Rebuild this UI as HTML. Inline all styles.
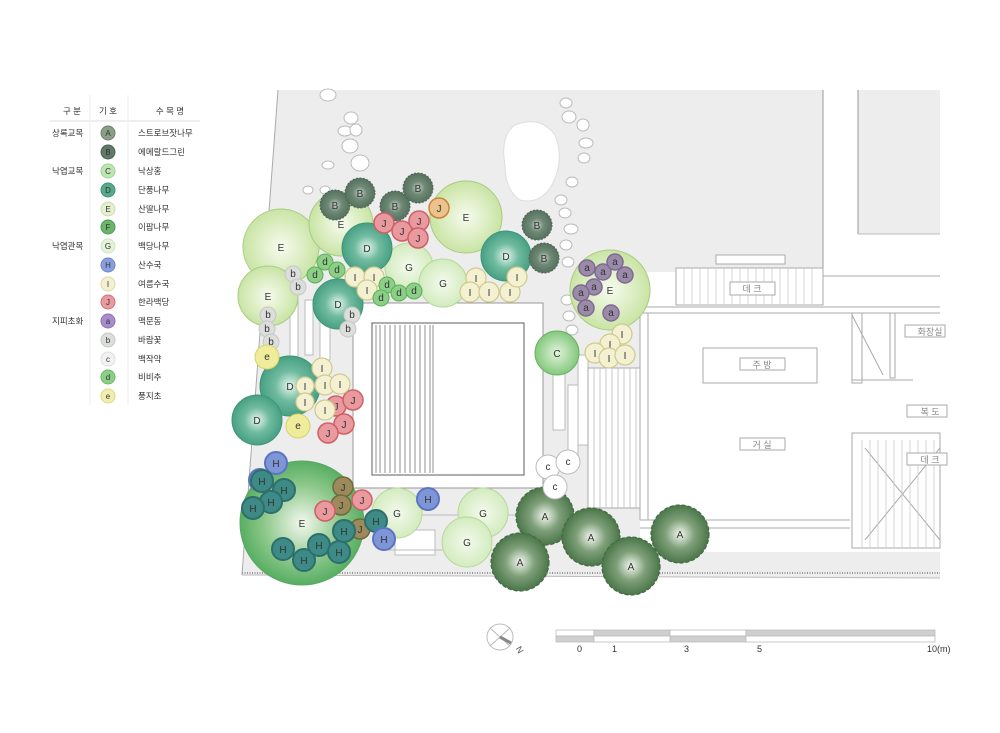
<!DOCTYPE html>
<html><head><meta charset="utf-8"><style>
html,body{margin:0;padding:0;background:#fff}
svg{display:block}
text{font-family:"Liberation Sans","Noto Sans CJK KR",sans-serif}
.t text{font-size:10px;text-anchor:middle;fill:#333}
.lg{font-size:8.5px;fill:#333;font-family:"Liberation Sans","Noto Sans CJK KR",sans-serif}
.rk{fill:#fff;stroke:#bbb;stroke-width:1}
.A circle{fill:url(#gA);stroke:#456b45;stroke-width:1.2;stroke-dasharray:4 2}
.B circle{fill:url(#gB);stroke:#4f6657;stroke-width:1;stroke-dasharray:2 1.5}
.C circle{fill:url(#gC);stroke:#6bb064}
.D circle{fill:url(#gD);stroke:#3f9478}
.E circle{fill:url(#gE);stroke:#a8cc80;stroke-width:1}
.G circle{fill:url(#gG);stroke:#b5d89a}
.H circle{fill:#3d8a86;stroke:#2e6e6b;stroke-width:2}
.Hb circle{fill:#7e95d8;stroke:#5a74c2;stroke-width:2}
.I circle{fill:#f4f1d2;stroke:#cfc98b;stroke-width:1.2}
.J circle{fill:#e89a9e;stroke:#cf5f67;stroke-width:1.5}
.Jo circle{fill:#ecc28f;stroke:#c98534;stroke-width:1.5}
.Jg circle{fill:#9c8a5c;stroke:#6f6a3b;stroke-width:1.5}
.a circle{fill:#9b8ba8;stroke:#7d6a94;stroke-width:1.5}
.b circle{fill:#dcdedc;stroke:#c5c8c5}
.c circle{fill:#fff;stroke:#bbb}
.d circle{fill:#8ccf86;stroke:#5fae5a}
.e circle{fill:#efec9b;stroke:#d6d26a}
.t .in{fill:#fff;stroke:none}
</style></head><body>
<svg width="1000" height="733" viewBox="0 0 1000 733" xmlns="http://www.w3.org/2000/svg">
<defs>
<radialGradient id="gA"><stop offset="0" stop-color="#f4f8f1"/><stop offset=".5" stop-color="#7fa07a"/><stop offset="1" stop-color="#4b7649"/></radialGradient>
<radialGradient id="gB"><stop offset="0" stop-color="#c9d3cb"/><stop offset=".45" stop-color="#6f8a76"/><stop offset="1" stop-color="#55705d"/></radialGradient>
<radialGradient id="gC"><stop offset="0" stop-color="#e0f3dc"/><stop offset="1" stop-color="#84c87c"/></radialGradient>
<radialGradient id="gD"><stop offset="0" stop-color="#e8f6f0"/><stop offset=".5" stop-color="#70bba0"/><stop offset="1" stop-color="#47a083"/></radialGradient>
<radialGradient id="gE"><stop offset="0" stop-color="#f7fbef"/><stop offset="1" stop-color="#c9e4a4"/></radialGradient>
<radialGradient id="gE2"><stop offset="0" stop-color="#f3f8ef"/><stop offset=".6" stop-color="#8fc98c"/><stop offset="1" stop-color="#58ae63"/></radialGradient>
<radialGradient id="gG"><stop offset="0" stop-color="#f4faee"/><stop offset="1" stop-color="#d3ebbe"/></radialGradient>
</defs>

<!-- ground -->
<polygon points="278,90 823,90 823,272 640,272 640,552 940,552 940,578 242,575" fill="#ededed"/>
<line x1="278" y1="90" x2="242" y2="575" stroke="#aaa" stroke-width="1"/>
<line x1="823" y1="90" x2="823" y2="272" stroke="#999"/>
<rect x="858" y="90" width="82" height="144" fill="#ededed"/>
<line x1="858" y1="90" x2="858" y2="234" stroke="#999"/>
<line x1="858" y1="234" x2="940" y2="234" stroke="#bbb"/>
<line x1="242" y1="575" x2="940" y2="578" stroke="#bbb"/>
<line x1="242" y1="573" x2="940" y2="573" stroke="#999" stroke-width="2" stroke-dasharray="1 1.5"/>

<!-- stepping stones / pond -->
<path d="M515 125 Q540 115 555 135 Q565 160 552 185 Q540 205 520 200 Q505 190 505 165 Q500 135 515 125Z" fill="#fff" stroke="#ddd"/>
<ellipse class="rk" cx="328" cy="95" rx="8" ry="6"/><ellipse class="rk" cx="351" cy="118" rx="7" ry="6"/><ellipse class="rk" cx="345" cy="131" rx="7" ry="5"/><ellipse class="rk" cx="356" cy="130" rx="6" ry="6"/><ellipse class="rk" cx="350" cy="146" rx="8" ry="7"/><ellipse class="rk" cx="360" cy="163" rx="9" ry="8"/><ellipse class="rk" cx="328" cy="165" rx="6" ry="4"/><ellipse class="rk" cx="325" cy="190" rx="5" ry="4"/><ellipse class="rk" cx="308" cy="190" rx="5" ry="4"/><ellipse class="rk" cx="566" cy="103" rx="6" ry="5"/><ellipse class="rk" cx="569" cy="117" rx="7" ry="6"/><ellipse class="rk" cx="583" cy="125" rx="6" ry="6"/><ellipse class="rk" cx="586" cy="143" rx="7" ry="5"/><ellipse class="rk" cx="584" cy="158" rx="6" ry="5"/><ellipse class="rk" cx="572" cy="182" rx="6" ry="5"/><ellipse class="rk" cx="561" cy="200" rx="6" ry="5"/><ellipse class="rk" cx="565" cy="213" rx="6" ry="5"/><ellipse class="rk" cx="571" cy="229" rx="7" ry="5"/><ellipse class="rk" cx="566" cy="245" rx="6" ry="5"/><ellipse class="rk" cx="568" cy="262" rx="6" ry="5"/><ellipse class="rk" cx="567" cy="300" rx="6" ry="5"/><ellipse class="rk" cx="569" cy="316" rx="6" ry="5"/><ellipse class="rk" cx="572" cy="330" rx="6" ry="5"/>

<!-- pool area -->
<rect x="353" y="303" width="190" height="185" fill="#fff" stroke="#999"/>
<rect x="372" y="323" width="152" height="152" fill="#fff" stroke="#777" stroke-width="1.2"/>
<g stroke="#777" stroke-width=".8">
<line x1="376" y1="325" x2="376" y2="473"/><line x1="380" y1="325" x2="380" y2="473"/><line x1="385" y1="325" x2="385" y2="473"/><line x1="390" y1="325" x2="390" y2="473"/><line x1="395" y1="325" x2="395" y2="473"/><line x1="400" y1="325" x2="400" y2="473"/><line x1="405" y1="325" x2="405" y2="473"/><line x1="410" y1="325" x2="410" y2="473"/><line x1="415" y1="325" x2="415" y2="473"/><line x1="420" y1="325" x2="420" y2="473"/><line x1="425" y1="325" x2="425" y2="473"/><line x1="430" y1="325" x2="430" y2="473"/><line x1="433" y1="325" x2="433" y2="473"/>
</g>
<!-- walkway strips -->
<g fill="#fff" stroke="#bbb">
<rect x="290" y="300" width="8" height="60"/><rect x="305" y="300" width="8" height="55"/><rect x="320" y="310" width="10" height="50"/>
<rect x="553" y="360" width="12" height="70"/><rect x="568" y="385" width="10" height="70"/><rect x="578" y="355" width="10" height="90"/>
<rect x="395" y="530" width="40" height="25"/><rect x="385" y="515" width="160" height="35" fill="none"/>
</g>
<!-- steps near building -->
<rect x="588" y="368" width="52" height="140" fill="#fff" stroke="#aaa"/>
<g stroke="#bbb" stroke-width=".8">
<line x1="594" y1="368" x2="594" y2="508"/><line x1="600" y1="368" x2="600" y2="508"/><line x1="606" y1="368" x2="606" y2="508"/><line x1="612" y1="368" x2="612" y2="508"/><line x1="618" y1="368" x2="618" y2="508"/><line x1="624" y1="368" x2="624" y2="508"/><line x1="630" y1="368" x2="630" y2="508"/><line x1="636" y1="368" x2="636" y2="508"/>
</g>

<!-- building -->
<g fill="none" stroke="#aaa" stroke-width="1">
<rect x="716" y="255" width="69" height="9" fill="#fff"/>
<rect x="676" y="268" width="147" height="37" fill="#fff"/>
<line x1="640" y1="307" x2="940" y2="307"/><line x1="640" y1="313" x2="940" y2="313"/>
<line x1="823" y1="276" x2="940" y2="276"/>
<line x1="640" y1="313" x2="640" y2="520"/><line x1="648" y1="313" x2="648" y2="520"/>
<line x1="640" y1="520" x2="850" y2="520"/><line x1="640" y1="528" x2="850" y2="528"/>
<rect x="703" y="348" width="114" height="35"/>
<rect x="852" y="313" width="10" height="70"/><rect x="890" y="313" width="5" height="65"/>
<line x1="852" y1="380" x2="913" y2="380"/>
<line x1="852" y1="315" x2="883" y2="375"/>
<rect x="852" y="433" width="88" height="115" fill="#fff"/>
<line x1="865" y1="448" x2="940" y2="540"/><line x1="865" y1="540" x2="940" y2="448"/>
</g>
<g stroke="#ccc" stroke-width=".8">
<line x1="684" y1="268" x2="684" y2="305"/><line x1="692" y1="268" x2="692" y2="305"/><line x1="700" y1="268" x2="700" y2="305"/><line x1="708" y1="268" x2="708" y2="305"/><line x1="716" y1="268" x2="716" y2="305"/><line x1="724" y1="268" x2="724" y2="305"/><line x1="732" y1="268" x2="732" y2="305"/><line x1="740" y1="268" x2="740" y2="305"/><line x1="748" y1="268" x2="748" y2="305"/><line x1="756" y1="268" x2="756" y2="305"/><line x1="764" y1="268" x2="764" y2="305"/><line x1="772" y1="268" x2="772" y2="305"/><line x1="780" y1="268" x2="780" y2="305"/><line x1="788" y1="268" x2="788" y2="305"/><line x1="796" y1="268" x2="796" y2="305"/><line x1="804" y1="268" x2="804" y2="305"/><line x1="812" y1="268" x2="812" y2="305"/>
<line x1="862" y1="440" x2="862" y2="548"/><line x1="870" y1="440" x2="870" y2="548"/><line x1="878" y1="440" x2="878" y2="548"/><line x1="886" y1="440" x2="886" y2="548"/><line x1="894" y1="440" x2="894" y2="548"/><line x1="902" y1="440" x2="902" y2="548"/><line x1="910" y1="440" x2="910" y2="548"/><line x1="918" y1="440" x2="918" y2="548"/><line x1="926" y1="440" x2="926" y2="548"/><line x1="934" y1="440" x2="934" y2="548"/>
</g>
<g fill="#fff" stroke="#aaa">
<rect x="730" y="282" width="45" height="13"/><rect x="740" y="358" width="45" height="12"/><rect x="740" y="438" width="45" height="12"/>
<rect x="905" y="325" width="40" height="12"/><rect x="907" y="405" width="40" height="12"/><rect x="907" y="453" width="40" height="12"/>
</g>
<g font-size="9" fill="#888" text-anchor="middle">
<text x="752" y="292">데 크</text><text x="762" y="368">주 방</text><text x="762" y="448">거 실</text>
<text x="930" y="335">화장실</text><text x="930" y="415">복 도</text><text x="930" y="463">데 크</text>
</g>

<!-- trees: large first -->
<g class="t E"><circle cx="281" cy="247" r="38"/><text x="281" y="251">E</text></g>
<g class="t E"><circle cx="268" cy="296" r="30"/><text x="268" y="300">E</text></g>
<g class="t E"><circle cx="341" cy="224" r="32"/><text x="341" y="228">E</text></g>
<g class="t E"><circle cx="466" cy="217" r="36"/><text x="466" y="221">E</text></g>
<g class="t E"><circle cx="610" cy="290" r="40"/><text x="610" y="294">E</text></g>
<g class="t G"><circle cx="409" cy="267" r="24"/><text x="409" y="271">G</text></g>
<g class="t G"><circle cx="443" cy="283" r="24"/><text x="443" y="287">G</text></g>
<g class="t G"><circle cx="397" cy="513" r="25"/><text x="397" y="517">G</text></g>
<g class="t G"><circle cx="483" cy="513" r="25"/><text x="483" y="517">G</text></g>
<g class="t G"><circle cx="467" cy="542" r="25"/><text x="467" y="546">G</text></g>
<g class="t C"><circle cx="557" cy="353" r="22"/><text x="557" y="357">C</text></g>
<g class="t D"><circle cx="367" cy="248" r="25"/><text x="367" y="252">D</text></g>
<g class="t D"><circle cx="506" cy="256" r="25"/><text x="506" y="260">D</text></g>
<g class="t D"><circle cx="338" cy="304" r="25"/><text x="338" y="308">D</text></g>
<g class="t D"><circle cx="290" cy="386" r="30"/><text x="290" y="390">D</text></g>
<g class="t D"><circle cx="257" cy="420" r="25"/><text x="257" y="424">D</text></g>
<g class="t E"><circle cx="302" cy="523" r="62" fill="url(#gE2)" style="fill:url(#gE2);stroke:#5aa863"/><text x="302" y="527">E</text></g>
<g class="t B"><circle cx="335" cy="205" r="15"/><text x="335" y="209" fill="#fff">B</text></g>
<g class="t B"><circle cx="360" cy="193" r="15"/><text x="360" y="197">B</text></g>
<g class="t B"><circle cx="395" cy="206" r="15"/><text x="395" y="210">B</text></g>
<g class="t B"><circle cx="418" cy="188" r="15"/><text x="418" y="192">B</text></g>
<g class="t B"><circle cx="537" cy="225" r="15"/><text x="537" y="229">B</text></g>
<g class="t B"><circle cx="544" cy="258" r="15"/><text x="544" y="262">B</text></g>
<g class="t A"><circle cx="545" cy="516" r="29"/><text x="545" y="520">A</text></g>
<g class="t A"><circle cx="591" cy="537" r="29"/><text x="591" y="541">A</text></g>
<g class="t A"><circle cx="520" cy="562" r="29"/><text x="520" y="566">A</text></g>
<g class="t A"><circle cx="631" cy="566" r="29"/><text x="631" y="570">A</text></g>
<g class="t A"><circle cx="680" cy="534" r="29"/><text x="680" y="538">A</text></g>

<!-- shrubs -->
<g class="t J"><circle cx="384" cy="223" r="10"/><text x="384" y="227">J</text></g>
<g class="t J"><circle cx="402" cy="231" r="10"/><text x="402" y="235">J</text></g>
<g class="t J"><circle cx="419" cy="221" r="10"/><text x="419" y="225">J</text></g>
<g class="t J"><circle cx="418" cy="238" r="10"/><text x="418" y="242">J</text></g>
<g class="t Jo"><circle cx="439" cy="208" r="10"/><text x="439" y="212">J</text></g>
<g class="t J"><circle cx="336" cy="406" r="10"/><text x="336" y="410">J</text></g>
<g class="t J"><circle cx="353" cy="400" r="10"/><text x="353" y="404">J</text></g>
<g class="t J"><circle cx="344" cy="424" r="10"/><text x="344" y="428">J</text></g>
<g class="t J"><circle cx="328" cy="433" r="10"/><text x="328" y="437">J</text></g>
<g class="t Jg"><circle cx="343" cy="487" r="10"/><text x="343" y="491">J</text></g>
<g class="t Jg"><circle cx="341" cy="505" r="10"/><text x="341" y="509">J</text></g>
<g class="t J"><circle cx="325" cy="511" r="10"/><text x="325" y="515">J</text></g>
<g class="t J"><circle cx="362" cy="500" r="10"/><text x="362" y="504">J</text></g>
<g class="t Jg"><circle cx="360" cy="529" r="10"/><text x="360" y="533">J</text></g>

<g class="t I"><circle cx="355" cy="277" r="10"/><text x="355" y="281">I</text></g>
<g class="t I"><circle cx="374" cy="277" r="10"/><text x="374" y="281">I</text></g>
<g class="t I"><circle cx="367" cy="290" r="10"/><text x="367" y="294">I</text></g>
<g class="t I"><circle cx="476" cy="278" r="10"/><text x="476" y="282">I</text></g>
<g class="t I"><circle cx="470" cy="292" r="10"/><text x="470" y="296">I</text></g>
<g class="t I"><circle cx="489" cy="292" r="10"/><text x="489" y="296">I</text></g>
<g class="t I"><circle cx="510" cy="292" r="10"/><text x="510" y="296">I</text></g>
<g class="t I"><circle cx="517" cy="277" r="10"/><text x="517" y="281">I</text></g>
<g class="t I"><circle cx="622" cy="334" r="10"/><text x="622" y="338">I</text></g>
<g class="t I"><circle cx="610" cy="344" r="10"/><text x="610" y="348">I</text></g>
<g class="t I"><circle cx="595" cy="353" r="10"/><text x="595" y="357">I</text></g>
<g class="t I"><circle cx="609" cy="358" r="10"/><text x="609" y="362">I</text></g>
<g class="t I"><circle cx="625" cy="355" r="10"/><text x="625" y="359">I</text></g>
<g class="t I"><circle cx="322" cy="368" r="10"/><text x="322" y="372">I</text></g>
<g class="t I"><circle cx="305" cy="386" r="9"/><text x="305" y="390">I</text></g>
<g class="t I"><circle cx="325" cy="385" r="10"/><text x="325" y="389">I</text></g>
<g class="t I"><circle cx="340" cy="384" r="10"/><text x="340" y="388">I</text></g>
<g class="t I"><circle cx="305" cy="402" r="9"/><text x="305" y="406">I</text></g>
<g class="t I"><circle cx="325" cy="410" r="10"/><text x="325" y="414">I</text></g>

<g class="t d"><circle cx="315" cy="275" r="8"/><text x="315" y="278" font-size="8">d</text></g>
<g class="t d"><circle cx="325" cy="262" r="8"/><text x="325" y="265" font-size="8">d</text></g>
<g class="t d"><circle cx="337" cy="270" r="8"/><text x="337" y="273" font-size="8">d</text></g>
<g class="t d"><circle cx="387" cy="285" r="8"/><text x="387" y="288" font-size="8">d</text></g>
<g class="t d"><circle cx="381" cy="298" r="8"/><text x="381" y="301" font-size="8">d</text></g>
<g class="t d"><circle cx="399" cy="293" r="8"/><text x="399" y="296" font-size="8">d</text></g>
<g class="t d"><circle cx="414" cy="291" r="8"/><text x="414" y="294" font-size="8">d</text></g>
<g class="t b"><circle cx="293" cy="274" r="8"/><text x="293" y="277" font-size="8">b</text></g>
<g class="t b"><circle cx="298" cy="287" r="8"/><text x="298" y="290" font-size="8">b</text></g>
<g class="t b"><circle cx="268" cy="315" r="8"/><text x="268" y="318" font-size="8">b</text></g>
<g class="t b"><circle cx="267" cy="329" r="8"/><text x="267" y="332" font-size="8">b</text></g>
<g class="t b"><circle cx="271" cy="342" r="8"/><text x="271" y="345" font-size="8">b</text></g>
<g class="t b"><circle cx="352" cy="315" r="8"/><text x="352" y="318" font-size="8">b</text></g>
<g class="t b"><circle cx="348" cy="329" r="8"/><text x="348" y="332" font-size="8">b</text></g>
<g class="t e"><circle cx="267" cy="357" r="12"/><text x="267" y="360" font-size="8">e</text></g>
<g class="t e"><circle cx="298" cy="426" r="12"/><text x="298" y="429" font-size="8">e</text></g>
<g class="t c"><circle cx="548" cy="467" r="12"/><text x="548" y="470" font-size="9">c</text></g>
<g class="t c"><circle cx="568" cy="462" r="12"/><text x="568" y="465" font-size="9">c</text></g>
<g class="t c"><circle cx="555" cy="487" r="12"/><text x="555" y="490" font-size="9">c</text></g>

<g class="t a"><circle cx="587" cy="268" r="8"/><text x="587" y="271" font-size="8" fill="#fff">a</text></g>
<g class="t a"><circle cx="603" cy="272" r="8"/><text x="603" y="275" font-size="8">a</text></g>
<g class="t a"><circle cx="615" cy="262" r="8"/><text x="615" y="265" font-size="8">a</text></g>
<g class="t a"><circle cx="625" cy="275" r="8"/><text x="625" y="278" font-size="8">a</text></g>
<g class="t a"><circle cx="594" cy="287" r="8"/><text x="594" y="290" font-size="8">a</text></g>
<g class="t a"><circle cx="581" cy="293" r="8"/><text x="581" y="296" font-size="8">a</text></g>
<g class="t a"><circle cx="586" cy="308" r="8"/><text x="586" y="311" font-size="8">a</text></g>
<g class="t a"><circle cx="611" cy="313" r="8"/><text x="611" y="316" font-size="8">a</text></g>

<g class="t Hb"><circle cx="276" cy="463" r="11"/><text x="276" y="467" fill="#fff">H</text></g>
<g class="t Hb"><circle cx="260" cy="480" r="11"/><text x="260" y="484">H</text></g>
<g class="t H"><circle cx="262" cy="481" r="11"/><text x="262" y="485" fill="#fff">H</text></g>
<g class="t H"><circle cx="284" cy="490" r="11"/><text x="284" y="494" fill="#fff">H</text></g>
<g class="t H"><circle cx="271" cy="502" r="11"/><text x="271" y="506" fill="#fff">H</text></g>
<g class="t H"><circle cx="253" cy="508" r="11"/><text x="253" y="512" fill="#fff">H</text></g>
<g class="t H"><circle cx="283" cy="549" r="11"/><text x="283" y="553" fill="#fff">H</text></g>
<g class="t H"><circle cx="304" cy="560" r="11"/><text x="304" y="564" fill="#fff">H</text></g>
<g class="t H"><circle cx="319" cy="545" r="11"/><text x="319" y="549" fill="#fff">H</text></g>
<g class="t H"><circle cx="339" cy="552" r="11"/><text x="339" y="556" fill="#fff">H</text></g>
<g class="t H"><circle cx="344" cy="531" r="11"/><text x="344" y="535" fill="#fff">H</text></g>
<g class="t H"><circle cx="376" cy="521" r="11"/><text x="376" y="525" fill="#fff">H</text></g>
<g class="t Hb"><circle cx="384" cy="539" r="11"/><text x="384" y="543" fill="#fff">H</text></g>
<g class="t Hb"><circle cx="428" cy="499" r="11"/><text x="428" y="503" fill="#fff">H</text></g>

<!-- legend -->
<g class="lg">
<line x1="50" y1="121" x2="200" y2="121" stroke="#ddd"/>
<line x1="90" y1="95" x2="90" y2="405" stroke="#eee"/><line x1="128" y1="95" x2="128" y2="405" stroke="#eee"/>
<text x="72" y="114" text-anchor="middle">구 분</text><text x="108" y="114" text-anchor="middle">기 호</text><text x="170" y="114" text-anchor="middle">수 목 명</text>
<text x="52" y="136">상록교목</text><text x="52" y="174">낙엽교목</text><text x="52" y="249">낙엽관목</text><text x="52" y="324">지피초화</text>
<text x="138" y="136">스트로브잣나무</text><text x="138" y="155">에메랄드그린</text><text x="138" y="174">낙상홍</text><text x="138" y="193">단풍나무</text><text x="138" y="212">산딸나무</text><text x="138" y="230">이팝나무</text><text x="138" y="249">백당나무</text><text x="138" y="268">산수국</text><text x="138" y="287">여름수국</text><text x="138" y="305">한라백당</text><text x="138" y="324">맥문동</text><text x="138" y="343">바람꽃</text><text x="138" y="362">백작약</text><text x="138" y="380">비비추</text><text x="138" y="399">풍지초</text>
</g>
<g class="t" font-size="8">
<circle cx="108" cy="133" r="7" fill="#8a9e88" stroke="#6e806d"/><text x="108" y="136" style="font-size:8px">A</text>
<circle cx="108" cy="152" r="7" fill="#5f7a66" stroke="#4c6452"/><text x="108" y="155" style="font-size:8px" fill="#fff">B</text>
<circle cx="108" cy="171" r="7" fill="#bfe5b3" stroke="#9dd28f"/><text x="108" y="174" style="font-size:8px">C</text>
<circle cx="108" cy="190" r="7" fill="#5aa88a" stroke="#3f9478"/><text x="108" y="193" style="font-size:8px">D</text>
<circle cx="108" cy="209" r="7" fill="#e3efcf" stroke="#c8e0a9"/><text x="108" y="212" style="font-size:8px">E</text>
<circle cx="108" cy="227" r="7" fill="#6ab56a" stroke="#4f9b4f"/><text x="108" y="230" style="font-size:8px">F</text>
<circle cx="108" cy="246" r="7" fill="#e4f2d9" stroke="#cfe6bc"/><text x="108" y="249" style="font-size:8px">G</text>
<circle cx="108" cy="265" r="7" fill="#8a9fe0" stroke="#6c84cc"/><text x="108" y="268" style="font-size:8px">H</text>
<circle cx="108" cy="284" r="7" fill="#f4f1d2" stroke="#ddd8a0"/><text x="108" y="287" style="font-size:8px">I</text>
<circle cx="108" cy="302" r="7" fill="#e89a9e" stroke="#d77077"/><text x="108" y="305" style="font-size:8px">J</text>
<circle cx="108" cy="321" r="7" fill="#a98ccc" stroke="#8d6fb5"/><text x="108" y="324" style="font-size:8px">a</text>
<circle cx="108" cy="340" r="7" fill="#dcdedc" stroke="#c5c8c5"/><text x="108" y="343" style="font-size:8px">b</text>
<circle cx="108" cy="359" r="7" fill="#f2f2f2" stroke="#ddd"/><text x="108" y="362" style="font-size:8px">c</text>
<circle cx="108" cy="377" r="7" fill="#8ccf86" stroke="#6cb866"/><text x="108" y="380" style="font-size:8px">d</text>
<circle cx="108" cy="396" r="7" fill="#f1eeb0" stroke="#dcd78a"/><text x="108" y="399" style="font-size:8px">e</text>
</g>

<!-- north arrow & scale -->
<circle cx="500" cy="637" r="13" fill="#fff" stroke="#bbb"/>
<line x1="490" y1="628" x2="510" y2="646" stroke="#bbb"/><line x1="510" y1="628" x2="490" y2="646" stroke="#bbb"/>
<line x1="500" y1="637" x2="511" y2="643" stroke="#888" stroke-width="3"/>
<text x="518" y="650" font-size="9" fill="#555" transform="rotate(60 518 647)">N</text>
<g stroke="#bbb" stroke-width=".8">
<rect x="556" y="630" width="38" height="6" fill="#fff"/><rect x="594" y="630" width="76" height="6" fill="#cfcfcf"/><rect x="670" y="630" width="76" height="6" fill="#fff"/><rect x="746" y="630" width="189" height="6" fill="#cfcfcf"/>
<rect x="556" y="636" width="38" height="6" fill="#cfcfcf"/><rect x="594" y="636" width="76" height="6" fill="#fff"/><rect x="670" y="636" width="76" height="6" fill="#cfcfcf"/><rect x="746" y="636" width="189" height="6" fill="#fff"/>
</g>
<g font-size="9" fill="#333">
<text x="577" y="652">0</text><text x="612" y="652">1</text><text x="684" y="652">3</text><text x="757" y="652">5</text><text x="927" y="652">10(m)</text>
</g>
</svg>
</body></html>
